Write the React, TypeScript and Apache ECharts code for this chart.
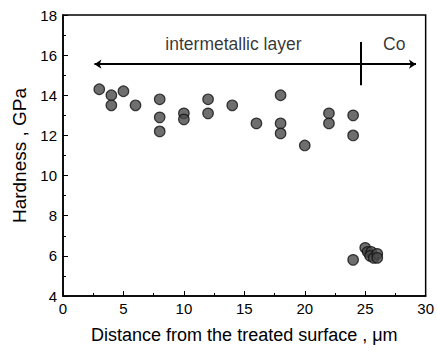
import React, { useEffect, useRef } from "react";
import * as echarts from "echarts";

const distance = [3, 4, 4, 5, 6, 8, 8, 8, 10, 10, 12, 12, 14, 16, 18, 18, 18, 20, 22, 22, 24, 24, 24, 25, 25.2, 25.5, 25.4, 25.7, 26, 26];
const hardness = [14.3, 14.0, 13.5, 14.2, 13.5, 13.8, 12.9, 12.2, 13.1, 12.8, 13.8, 13.1, 13.5, 12.6, 14.0, 12.6, 12.1, 11.5, 13.1, 12.6, 13.0, 12.0, 5.8, 6.4, 6.2, 6.2, 6.0, 5.9, 6.1, 5.9];

const arrowY = 15.55;
const arrowStart = 2.6;
const arrowEnd = 29.2;
const boundaryX = 24.6;
const boundaryTop = 16.65;
const boundaryBottom = 14.5;

const annotationNames = ["intermetallic layer", "Co"];
const annotationX = [14.1, 27.4];
const annotationY = [16.55, 16.55];

const xTicks = { min: 0, max: 30, interval: 5 };
const yTicks = { min: 4, max: 18, interval: 2 };

export default function App() {
  const ref = useRef<HTMLDivElement>(null);
  useEffect(() => {
    if (!ref.current) return;
    const chart = echarts.init(ref.current, undefined, { renderer: "svg" });
    const font = "Liberation Sans, Arial, sans-serif";
    chart.setOption({
      animation: false,
      backgroundColor: "#fff",
      grid: {
        left: 63,
        right: 7,
        top: 15,
        bottom: 55,
        show: true,
        borderColor: "#000",
        borderWidth: 1.5,
        backgroundColor: "transparent",
      },
      xAxis: {
        type: "value",
        min: xTicks.min,
        max: xTicks.max,
        interval: xTicks.interval,
        name: "Distance from the treated surface , \u03bcm",
        nameLocation: "middle",
        nameGap: 30,
        nameTextStyle: { color: "#000", fontSize: 18, fontFamily: font },
        axisLine: { show: true, lineStyle: { color: "#000", width: 1.5 } },
        axisTick: { show: true, inside: true, length: 5, lineStyle: { color: "#000" } },
        minorTick: { show: true, splitNumber: 2, length: 3, lineStyle: { color: "#000" } },
        axisLabel: { color: "#000", fontSize: 15, fontFamily: font, margin: 5 },
        splitLine: { show: false },
      },
      yAxis: {
        type: "value",
        min: yTicks.min,
        max: yTicks.max,
        interval: yTicks.interval,
        name: "Hardness , GPa",
        nameLocation: "middle",
        nameGap: 32,
        nameTextStyle: { color: "#000", fontSize: 19, fontFamily: font },
        axisLine: { show: true, lineStyle: { color: "#000", width: 1.5 } },
        axisTick: { show: true, inside: true, length: 5, lineStyle: { color: "#000" } },
        minorTick: { show: true, splitNumber: 2, length: 3, lineStyle: { color: "#000" } },
        axisLabel: { color: "#000", fontSize: 15, fontFamily: font, margin: 6 },
        splitLine: { show: false },
      },
      series: [
        {
          type: "scatter",
          data: distance.map((d, i) => [d, hardness[i]]),
          symbol: "circle",
          symbolSize: 10.5,
          itemStyle: { color: "#4a4a4a", borderColor: "#111", borderWidth: 1.2 },
          markLine: {
            silent: true,
            animation: false,
            label: { show: false },
            lineStyle: { color: "#000", width: 2, type: "solid" },
            data: [
              [
                { coord: [arrowStart, arrowY], symbol: "arrow", symbolSize: 7 },
                { coord: [arrowEnd, arrowY], symbol: "arrow", symbolSize: 7 },
              ],
              [
                { coord: [boundaryX, boundaryTop], symbol: "none" },
                { coord: [boundaryX, boundaryBottom], symbol: "none" },
              ],
            ],
          },
        },
        {
          type: "scatter",
          symbolSize: 0,
          silent: true,
          data: annotationNames.map((n, i) => ({ name: n, value: [annotationX[i], annotationY[i]] })),
          label: {
            show: true,
            position: "inside",
            formatter: (p: any) => p.name,
            color: "#000",
            fontSize: 17.5,
            fontFamily: font,
          },
        },
      ],
    });
    return () => chart.dispose();
  }, []);
  return (
    <div
      ref={ref}
      style={{ position: "absolute", left: 0, top: 0, width: 437, height: 351 }}
    />
  );
}
